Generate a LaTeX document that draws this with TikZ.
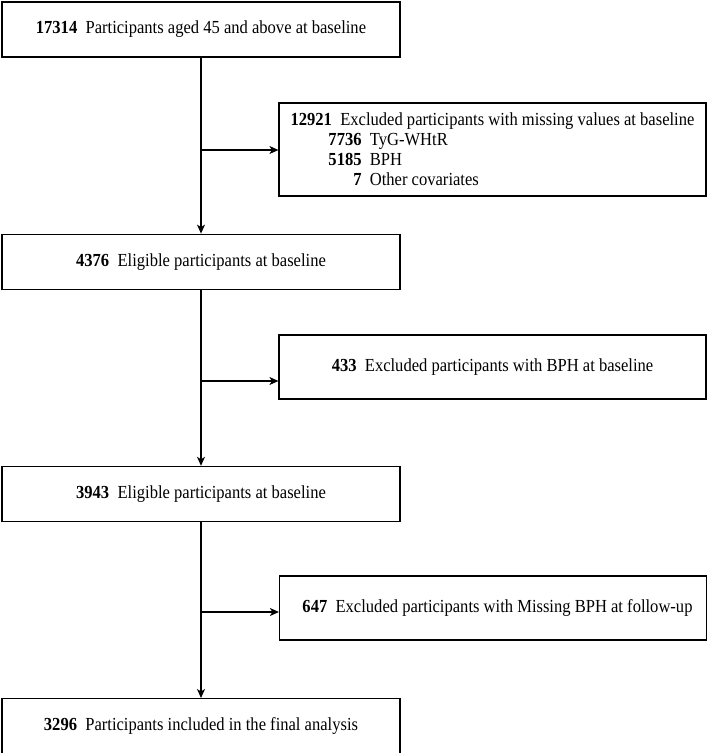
\documentclass[tikz,border=0pt]{standalone}
\usepackage{fontspec}
\setmainfont{Liberation Serif}[FakeStretch=0.9]
\usetikzlibrary{positioning,arrows.meta}

\tikzset{
  stage/.style={draw, line width=1.2pt, minimum width=398pt, minimum height=55pt, inner sep=0pt, align=center},
  excl/.style={draw, line width=1.2pt, minimum width=427pt, inner sep=0pt, align=left},
  flow/.style={line width=1.1pt, -{Stealth[length=9pt,width=8pt,inset=2.5pt]}}
}

\begin{document}
\begin{tikzpicture}[x=1pt, y=-1pt, node distance=176pt, font=\fontsize{18.4}{20}\selectfont]
	\useasboundingbox (0,0) rectangle (708,753);

	% main stages
	\node[stage] (base) at (201,29.5) {\textbf{17314}\ \ Participants aged 45 and above at baseline};
	\node[stage, below=of base] (elig1) {\textbf{4376}\ \ Eligible participants at baseline};
	\node[stage, below=of elig1] (elig2) {\textbf{3943}\ \ Eligible participants at baseline};
	\node[stage, below=of elig2] (final) {\textbf{3296}\ \ Participants included in the final analysis};

	% exclusions
	\node[excl, minimum height=93pt] (miss) at (492.5,149.5) {\textbf{12921}\ \ Excluded participants with missing values at baseline\\
		\makebox[71pt][r]{\textbf{7736}}\ \ TyG-WHtR\\
		\makebox[71pt][r]{\textbf{5185}}\ \ BPH\\
		\makebox[71pt][r]{\textbf{7}}\ \ Other covariates};
	\node[excl, minimum height=64pt] (bph) at (492.5,367) {\textbf{433}\ \ Excluded participants with BPH at baseline};
	\node[excl, minimum height=64pt] (lost) at (493,608) {\hspace{9pt}\textbf{647}\ \ Excluded participants with Missing BPH at follow-up};

	\coordinate (j1) at (201,150);
	\coordinate (j2) at (201,381);
	\coordinate (j3) at (201,612);

	\draw[flow] (base) -- (elig1);
	\draw[flow] (elig1) -- (elig2);
	\draw[flow] (elig2) -- (final);
	\draw[flow] (j1) -- (j1 -| miss.west);
	\draw[flow] (j2) -- (j2 -| bph.west);
	\draw[flow] (j3) -- (j3 -| lost.west);
\end{tikzpicture}
\end{document}
